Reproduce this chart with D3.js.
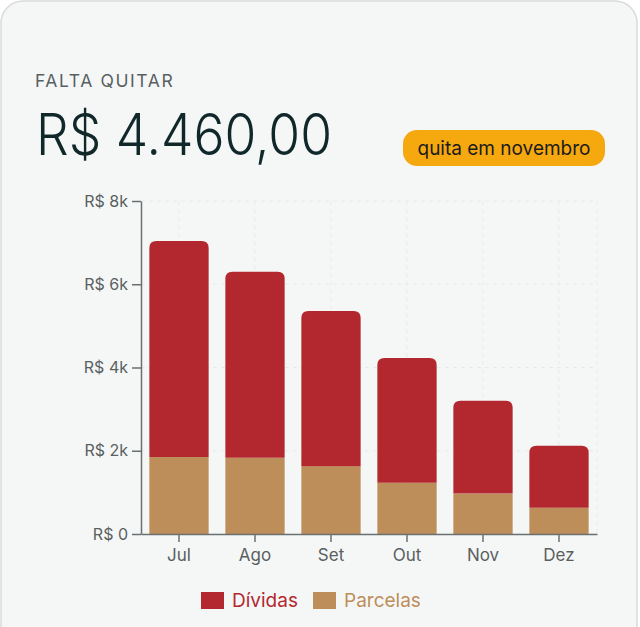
<!DOCTYPE html>
<html>
<head>
<meta charset="utf-8">
<script src="https://cdn.jsdelivr.net/npm/d3@7"></script>
<style>
  body { margin: 0; background: #ffffff; font-family: Inter, "Noto Sans", sans-serif; }
  svg { display: block; }
  .grid line { stroke: #e7eaeb; stroke-dasharray: 4,4; }
  .axis path, .axis line { stroke: #6b6f70; stroke-width: 1.5; }
  .axis text { fill: #5a5f60; font-family: Inter, sans-serif; }
</style>
</head>
<body>
<svg id="chart" width="640" height="627"></svg>
<script>
// data
const months = ["Jul", "Ago", "Set", "Out", "Nov", "Dez"];
const parcelas = [1850, 1830, 1630, 1230, 970, 630];
const dividas = [5190, 4470, 3730, 3000, 2230, 1490];
const yTicks = [0, 2000, 4000, 6000, 8000];
const yTickLabels = ["R$ 0", "R$ 2k", "R$ 4k", "R$ 6k", "R$ 8k"];
const seriesNames = ["Dívidas", "Parcelas"];
const seriesColors = ["#b3282e", "#bd8e5a"];

const svg = d3.select("#chart");

// card
svg.append("rect")
  .attr("x", 1).attr("y", 1)
  .attr("width", 636).attr("height", 660)
  .attr("rx", 22)
  .attr("fill", "#f5f7f7")
  .attr("stroke", "#d8dbdc")
  .attr("stroke-width", 1.5);

// header
svg.append("text")
  .attr("x", 35).attr("y", 87)
  .attr("font-size", 17.5)
  .attr("letter-spacing", 1.6)
  .attr("fill", "#586062")
  .text("FALTA QUITAR");

svg.append("text")
  .attr("x", 36).attr("y", 155)
  .attr("font-size", 57)
  .attr("font-weight", 300)
  .attr("textLength", 296)
  .attr("lengthAdjust", "spacingAndGlyphs")
  .attr("fill", "#10282a")
  .text("R$ 4.460,00");

svg.append("rect")
  .attr("x", 403).attr("y", 130)
  .attr("width", 202).attr("height", 36)
  .attr("rx", 14)
  .attr("fill", "#f6a80f");
svg.append("text")
  .attr("x", 504).attr("y", 155)
  .attr("text-anchor", "middle")
  .attr("font-size", 19.5)
  .attr("textLength", 173)
  .attr("lengthAdjust", "spacingAndGlyphs")
  .attr("fill", "#1b1b1b")
  .text("quita em novembro");

// scales
const x = d3.scaleBand()
  .domain(months)
  .range([141, 597])
  .paddingInner(0.22)
  .paddingOuter(0.11);

const y = d3.scaleLinear()
  .domain([0, 8000])
  .range([534, 201]);

// grid
const grid = svg.append("g").attr("class", "grid");
grid.selectAll("line.h")
  .data(yTicks)
  .enter()
  .append("line")
  .attr("class", "h")
  .attr("x1", 141).attr("x2", 597)
  .attr("y1", d => y(d)).attr("y2", d => y(d));
grid.selectAll("line.v")
  .data(months)
  .enter()
  .append("line")
  .attr("class", "v")
  .attr("x1", d => x(d) + x.bandwidth() / 2)
  .attr("x2", d => x(d) + x.bandwidth() / 2)
  .attr("y1", 201).attr("y2", 534);
grid.append("line")
  .attr("x1", 597).attr("x2", 597)
  .attr("y1", 201).attr("y2", 534);

// bars
const rows = months.map((m, i) => ({ month: m, parcelas: parcelas[i], dividas: dividas[i] }));
const bw = x.bandwidth();
const r = 7;

svg.append("g").selectAll("rect")
  .data(rows)
  .enter()
  .append("rect")
  .attr("x", d => x(d.month))
  .attr("y", d => y(d.parcelas))
  .attr("width", bw)
  .attr("height", d => y(0) - y(d.parcelas))
  .attr("fill", seriesColors[1]);

svg.append("g").selectAll("path")
  .data(rows)
  .enter()
  .append("path")
  .attr("fill", seriesColors[0])
  .attr("d", d => {
    const x0 = x(d.month), x1 = x0 + bw;
    const top = y(d.parcelas + d.dividas), bot = y(d.parcelas);
    return `M${x0},${bot}V${top + r}Q${x0},${top} ${x0 + r},${top}H${x1 - r}Q${x1},${top} ${x1},${top + r}V${bot}Z`;
  });

// axes
svg.append("g")
  .attr("class", "axis")
  .attr("transform", "translate(141,0)")
  .call(d3.axisLeft(y).tickValues(yTicks).tickFormat((d, i) => yTickLabels[i]).tickSize(9).tickSizeOuter(0).tickPadding(4))
  .selectAll("text").attr("font-size", 16);

svg.append("g")
  .attr("class", "axis")
  .attr("transform", "translate(0,534)")
  .call(d3.axisBottom(x).tickSize(8).tickSizeOuter(0).tickPadding(7))
  .selectAll("text").attr("font-size", 17);

svg.selectAll(".axis .domain").attr("stroke-width", 1.6);

// legend
const legendX = [201, 313];
const legend = svg.append("g").selectAll("g")
  .data(seriesNames)
  .enter()
  .append("g")
  .attr("transform", (d, i) => `translate(${legendX[i]},592)`);
legend.append("rect")
  .attr("width", 23).attr("height", 17)
  .attr("fill", (d, i) => seriesColors[i]);
legend.append("text")
  .attr("x", 31).attr("y", 14.5)
  .attr("font-size", 19)
  .attr("fill", (d, i) => seriesColors[i])
  .text(d => d);
</script>
</body>
</html>
